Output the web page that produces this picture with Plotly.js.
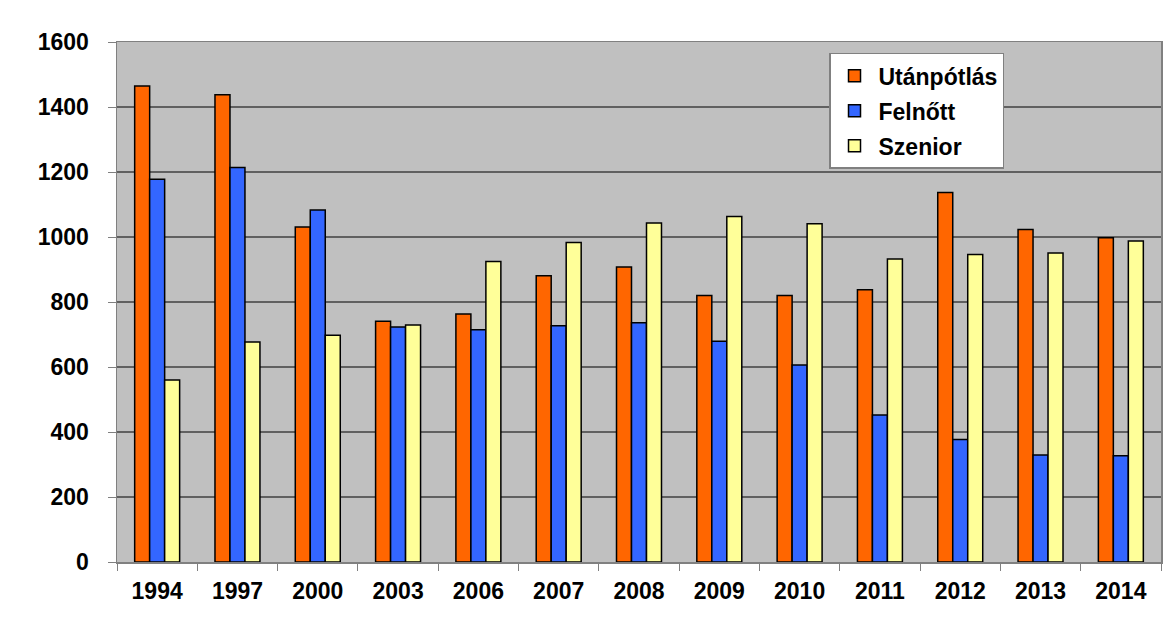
<!DOCTYPE html>
<html><head><meta charset="utf-8">
<script src="https://cdn.plot.ly/plotly-3.0.1.min.js"></script>
<style>html,body{margin:0;padding:0;background:#fff;}#chart{width:1176px;height:642px;}</style>
</head><body><div id="chart"></div>
<script>
const years = ['1994','1997','2000','2003','2006','2007','2008','2009','2010','2011','2012','2013','2014'];
const utanpotlas = [1465,1438,1031,741,763,881,908,820,820,838,1137,1023,998];
const felnott = [1178,1214,1083,723,715,727,736,679,606,452,377,329,327];
const szenior = [560,677,698,729,925,983,1043,1063,1041,932,946,951,988];
const seriesNames = ['Utánpótlás','Felnőtt','Szenior'];
const colors = ['#FF6600','#3366FF','#FFFF99'];
const vals = [utanpotlas, felnott, szenior];

const font = {family:'Liberation Sans, Arial, sans-serif', size:23, color:'#000', weight:'bold'};
const traces = vals.map((v,i)=>({
  type:'bar', x:years, y:v, name:seriesNames[i], legendgroup:'g'+i,
  marker:{color:colors[i], line:{color:'#000', width:1.5}}
}));
const layout = {
  width:1176, height:642,
  margin:{l:117, r:15, t:42, b:80},
  paper_bgcolor:'#fff', plot_bgcolor:'#C0C0C0',
  barmode:'group', bargap:0.44, bargroupgap:0,
  font:font,
  showlegend:true,
  legend:{x:0.682, y:0.979, xanchor:'left', yanchor:'top', bgcolor:'#fff', bordercolor:'#808080', borderwidth:1.5,
    font:font, traceorder:'grouped', tracegroupgap:2, itemwidth:38, entrywidth:190},
  xaxis:{type:'category', tickson:'boundaries', ticks:'outside', ticklen:7, tickcolor:'#808080',
    showline:true, linecolor:'#808080', linewidth:1.5, mirror:true, tickfont:font, showgrid:false, ticklabelstandoff:8},
  yaxis:{range:[0,1600], dtick:200, ticks:'outside', ticklen:8, tickcolor:'#808080', showline:true, linecolor:'#808080', linewidth:1.5, mirror:true,
    gridcolor:'#606060', gridwidth:1.5, tickfont:font, zeroline:false, ticklabelstandoff:14}
};
Plotly.newPlot('chart', traces, layout, {displayModeBar:false, staticPlot:true});
</script></body></html>
